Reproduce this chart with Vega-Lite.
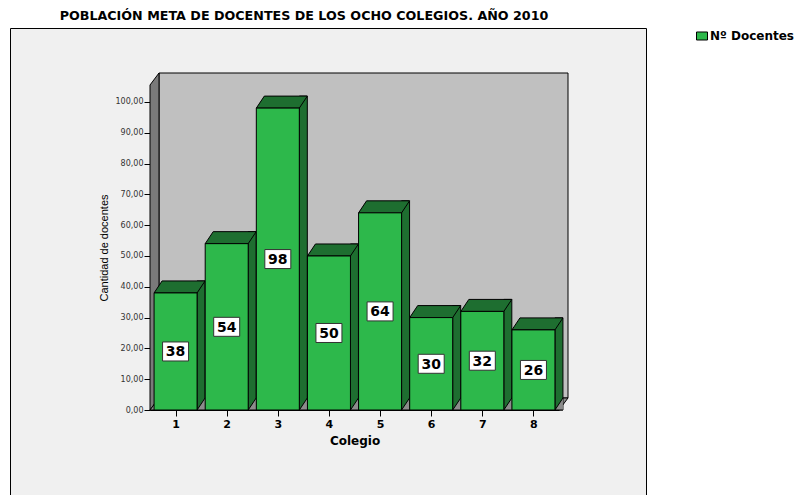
{
  "$schema": "https://vega.github.io/schema/vega-lite/v6.json",
  "width": 636,
  "height": 480,
  "autosize": {"type": "none"},
  "padding": {"left": 10, "top": 28, "right": 149, "bottom": 0},
  "background": "white",
  "title": {
    "text": "POBLACIÓN META DE DOCENTES DE LOS OCHO COLEGIOS. AÑO 2010",
    "anchor": "middle",
    "frame": "group",
    "dx": -24,
    "offset": -5,
    "baseline": "alphabetic",
    "font": "DejaVu Sans",
    "fontSize": 12.7,
    "fontWeight": "bold",
    "color": "black"
  },
  "config": {
    "view": {"fill": "#F0F0F0", "stroke": "black", "strokeWidth": 1},
    "axis": {"grid": false}
  },
  "data": {
    "values": [
      {"colegio": 1, "docentes": 38, "serie": "Nº Docentes"},
      {"colegio": 2, "docentes": 54, "serie": "Nº Docentes"},
      {"colegio": 3, "docentes": 98, "serie": "Nº Docentes"},
      {"colegio": 4, "docentes": 50, "serie": "Nº Docentes"},
      {"colegio": 5, "docentes": 64, "serie": "Nº Docentes"},
      {"colegio": 6, "docentes": 30, "serie": "Nº Docentes"},
      {"colegio": 7, "docentes": 32, "serie": "Nº Docentes"},
      {"colegio": 8, "docentes": 26, "serie": "Nº Docentes"}
    ]
  },
  "layer": [
    {
      "layer": [
        {
          "data": {"values": [{}]},
          "mark": {"type": "rect", "fill": "#C0C0C0", "stroke": "black", "strokeWidth": 1, "xOffset": 9, "x2Offset": 9, "yOffset": -12, "y2Offset": -12},
          "encoding": {
            "x": {"datum": 0.5, "type": "quantitative", "scale": {"domain": [0.5, 8.5], "range": [140, 549], "nice": false, "zero": false, "padding": 0}},
            "x2": {"datum": 8.5},
            "y": {"datum": 0, "type": "quantitative", "scale": {"domain": [0, 105.5], "range": [382, 57], "nice": false, "zero": false, "padding": 0}},
            "y2": {"datum": 105.5}
          }
        },
        {
          "data": {"values": [{}]},
          "mark": {"type": "point", "shape": "M0,0L9,-12L9,-337L0,-325Z", "size": 4, "filled": true, "fill": "#7A7A7A", "stroke": "black", "strokeWidth": 1, "opacity": 1},
          "encoding": {
            "x": {"datum": 0.5, "type": "quantitative"},
            "y": {"datum": 0, "type": "quantitative"}
          }
        },
        {
          "data": {"values": [{}]},
          "mark": {"type": "point", "shape": "M0,0L9,-12L418,-12L409,0Z", "size": 4, "filled": true, "fill": "#8C8C8C", "stroke": "black", "strokeWidth": 1, "opacity": 1},
          "encoding": {
            "x": {"datum": 0.5, "type": "quantitative"},
            "y": {"datum": 0, "type": "quantitative"}
          }
        },
        {
          "mark": {"type": "bar", "width": 8, "xOffset": 25.5, "yOffset": -12, "y2Offset": 0, "fill": "#1E6E30", "stroke": "black", "strokeWidth": 1},
          "encoding": {
            "x": {"field": "colegio", "type": "quantitative"},
            "y": {"field": "docentes", "type": "quantitative", "stack": null},
            "y2": {"datum": 0}
          }
        },
        {
          "mark": {"type": "point", "shape": "M8,0L0,0L8,-12", "size": 4, "filled": true, "fill": "#8C8C8C", "stroke": "black", "strokeWidth": 1, "opacity": 1, "xOffset": 21.5},
          "encoding": {
            "x": {"field": "colegio", "type": "quantitative"},
            "y": {"datum": 0, "type": "quantitative"}
          }
        },
        {
          "mark": {"type": "point", "shape": "M-21.5,0L21.5,0L29.5,-12L-13.5,-12Z", "size": 4, "filled": true, "fill": "#1E6E30", "stroke": "black", "strokeWidth": 1, "opacity": 1},
          "encoding": {
            "x": {"field": "colegio", "type": "quantitative"},
            "y": {"field": "docentes", "type": "quantitative"}
          }
        },
        {
          "mark": {"type": "bar", "width": 43, "stroke": "black", "strokeWidth": 1, "opacity": 1},
          "encoding": {
            "x": {
              "field": "colegio",
              "type": "quantitative",
              "axis": {
                "title": "Colegio",
                "offset": -98,
                "values": [1, 2, 3, 4, 5, 6, 7, 8],
                "format": "d",
                "labelFont": "DejaVu Sans",
                "labelFontSize": 11,
                "labelFontWeight": "bold",
                "labelColor": "black",
                "labelFlush": false,
                "tickSize": 6,
                "tickColor": "black",
                "domainColor": "black",
                "labelPadding": 2,
                "titleFont": "DejaVu Sans",
                "titleFontSize": 12,
                "titleFontWeight": "bold",
                "titleColor": "black",
                "titlePadding": 6
              }
            },
            "y": {
              "field": "docentes",
              "type": "quantitative",
              "stack": null,
              "axis": {
                "title": "Cantidad de docentes",
                "offset": -140,
                "values": [0, 10, 20, 30, 40, 50, 60, 70, 80, 90, 100],
                "labelExpr": "replace(format(datum.value, '.2f'), '.', ',')",
                "labelFont": "DejaVu Sans",
                "labelFontSize": 8,
                "labelColor": "#333333",
                "tickSize": 6,
                "tickColor": "black",
                "domainColor": "black",
                "labelPadding": 1,
                "titleFont": "Liberation Sans",
                "titleFontSize": 11,
                "titleFontWeight": "normal",
                "titleColor": "black",
                "titlePadding": 6
              }
            },
            "y2": {"datum": 0},
            "color": {
              "field": "serie",
              "type": "nominal",
              "scale": {"domain": ["Nº Docentes"], "range": ["#2DB84B"]},
              "legend": {
                "orient": "none",
                "legendX": 686,
                "legendY": 2,
                "title": null,
                "symbolType": "M-1,-0.73H1V0.73H-1Z",
                "symbolSize": 121,
                "symbolStrokeColor": "black",
                "symbolStrokeWidth": 1,
                "symbolOpacity": 1,
                "labelFont": "DejaVu Sans",
                "labelFontSize": 12,
                "labelFontWeight": "bold",
                "labelColor": "black",
                "labelOffset": 2,
                "padding": 0
              }
            }
          }
        }
      ]
    },
    {
      "layer": [
        {
          "mark": {"type": "point", "shape": "M-13,-9.5H13V9.5H-13Z", "size": 4, "filled": true, "fill": "white", "stroke": "#333333", "strokeWidth": 1, "opacity": 1},
          "encoding": {
            "x": {"field": "colegio", "type": "quantitative"},
            "y": {"field": "docentes", "type": "quantitative", "scale": {"domain": [0, 211], "range": [382, 57], "nice": false, "zero": false, "padding": 0}, "axis": null}
          }
        },
        {
          "mark": {"type": "text", "font": "DejaVu Sans", "fontSize": 14, "fontWeight": "bold", "color": "black", "baseline": "middle", "align": "center", "dy": 1},
          "encoding": {
            "x": {"field": "colegio", "type": "quantitative"},
            "y": {"field": "docentes", "type": "quantitative"},
            "text": {"field": "docentes", "type": "quantitative"}
          }
        }
      ]
    }
  ],
  "resolve": {"scale": {"y": "independent"}}
}
